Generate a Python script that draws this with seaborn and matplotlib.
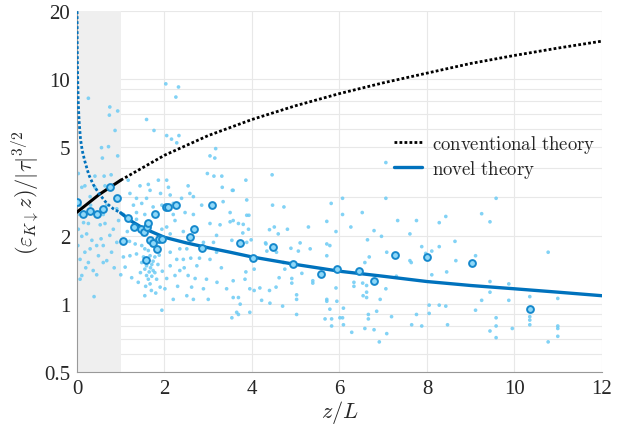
import pandas as pd
import matplotlib.pyplot as plt
import seaborn as sns
from matplotlib.ticker import FixedLocator, LogLocator, NullFormatter

# theory curves
conv_z = [0, 0.5, 1, 2, 3, 4, 5, 6, 7, 8, 9, 10, 11, 12]
conv_v = [2.56, 3.06, 3.55, 4.58, 5.6, 6.6, 7.6, 8.6, 9.6, 10.6, 11.7, 12.7, 13.7, 14.7]

novel_z = [0.0015, 0.005, 0.01, 0.017, 0.03, 0.05, 0.08, 0.12, 0.18, 0.27, 0.37, 0.5, 0.68, 0.83, 1,
           1.25, 1.5, 2, 2.5, 3, 3.5, 4, 5, 6, 7, 8, 9, 10, 11, 12]
novel_v = [21, 14.5, 11.5, 9.6, 7.7, 6.4, 5.4, 4.8, 4.3, 3.75, 3.4, 3.1, 2.8, 2.65, 2.54,
           2.33, 2.18, 1.98, 1.87, 1.78, 1.70, 1.62, 1.50, 1.40, 1.33, 1.26, 1.21, 1.17, 1.13, 1.09]

# individual samples (small dots)
dot_z = [0.26, 0.75, 0.74, 0.93, 0.87, 0.56, 0.72, 0.58, 0.93,
         2.03, 2.32, 2.26, 1.59, 1.76, 2.05, 2.16, 2.33, 2.28,
         3.17, 3.04, 3.15, 2.98, 3.13, 3.31, 3.32, 3.55,
         0.03, 0.18, 0.11, 0.41, 0.41, 0.3, 0.62, 0.78, 0.64, 0.07, 0.31, 0.68, 0.91, 0.01, 0.6,
         1.17, 1.44, 1.21, 1.36, 1.63, 1.67, 1.86, 1.91, 2.05, 2.09, 2.13, 1.59, 1.48, 1.29, 1.74,
         1.94, 2.2, 2.39, 2.58, 2.66, 2.54, 2.47, 2.85, 2.66, 3.5, 3.34, 1.36, 1.55, 2.2,
         0.03, 0.11, 0.02, 0.22, 0.34, 0.18, 0.07, 0.26, 0.37, 0.11, 0.07, 0.49, 0.6, 0.68, 0.79,
         0.75, 0.53, 0.64, 0.83, 0.91, 0.45, 0.3, 0.39, 0.6, 0.26,
         1.06, 1.1, 1.25, 1.4, 1.48, 1.55, 1.59, 1.63, 1.55, 1.67, 1.71, 1.74, 1.67, 1.55, 1.82,
         1.9, 2.01, 1.94, 2.13, 2.24, 2.35, 2.28, 2.13, 2.43, 2.54, 2.62, 2.66, 2.51, 2.74, 2.89,
         2.96, 3.04, 3.19, 3.19, 3.27, 3.5, 3.42, 3.57, 3.54, 3.65, 2.35, 2.51, 2.89, 3.12, 3.04,
         2.13, 2.24, 2.43, 1.33, 1.21, 1.36, 1.48, 1.78, 1.71, 1.36, 1.06, 1.94, 2.05, 1.59, 1.65,
         1.71, 1.63, 1.74,
         1.52, 1.62, 1.68, 1.78, 1.85, 1.57, 1.7, 1.8, 1.45, 1.95, 2.05, 1.88, 1.2, 1.15, 1.0,
         2.3, 2.45, 2.6, 2.7, 2.8, 3.3, 3.0, 3.2, 2.2, 0.2, 0.45, 0.55, 0.15, 0.85, 0.95,
         3.86, 3.57, 3.88, 3.88, 3.93, 3.69, 3.8, 3.92, 3.79, 3.57, 4.46, 4.47, 4.73, 4.51, 4.4,
         4.6, 4.81, 5.29, 5.1, 5.71, 5.81, 5.92, 5.71, 5.78, 6.07, 6.07, 6.26, 6.52, 6.64, 6.79,
         6.96, 7.06, 7.06, 7.33, 7.61, 7.76, 4.31, 3.98, 3.54,
         3.86, 3.84, 3.95, 4.05, 3.69, 3.73, 3.69, 3.95, 4.05, 4.18, 4.22, 4.32, 4.34, 4.4, 4.41,
         4.55, 4.62, 4.7, 4.75, 4.89, 4.91, 4.91, 5.02, 5.02, 5.02, 5.06, 5.14, 5.33, 5.39, 5.39,
         5.71, 5.71, 5.71, 5.67, 5.78, 5.82, 5.82, 5.92, 5.94, 6.01, 6.07, 6.09, 6.09, 6.28, 6.33,
         6.33, 6.53, 6.54, 6.62, 6.62, 6.58, 6.68, 6.58, 6.66, 6.66, 6.79, 6.85, 6.91, 7.06, 7.08,
         6.93, 7.19, 7.3, 7.61, 7.64, 7.65, 7.76, 6.62, 7.08, 4.56, 4.72, 3.57, 3.88,
         9.58, 9.25, 9.44, 8.43, 8.28, 7.88, 8.28, 8.64,
         8.11, 7.97, 8.66, 8.45, 8.11, 9.11, 9.44, 9.44, 9.87, 9.87, 9.25, 9.11, 8.05, 8.28, 8.43,
         8.05, 7.88, 8.47, 9.58, 9.58, 9.44, 9.58, 9.95, 10.35, 10.35, 10.35, 10.35, 10.77, 10.99,
         10.99, 10.99, 10.99, 10.77]
dot_v = [8.2, 7.5, 6.9, 7.2, 5.9, 4.95, 5.0, 4.45, 4.55,
         9.5, 9.2, 8.3, 6.6, 5.9, 5.6, 5.4, 5.6, 5.2,
         4.9, 4.55, 4.45, 3.8, 3.7, 3.7, 3.3, 3.2,
         3.8, 3.35, 3.3, 3.7, 3.3, 3.0, 3.7, 3.75, 3.35, 2.75, 2.75, 2.75, 2.65, 2.5, 2.5,
         3.55, 3.35, 3.1, 2.95, 3.4, 3.2, 3.55, 3.1, 3.55, 3.3, 3.05, 2.95, 2.8, 2.75, 2.7,
         2.75, 2.8, 2.95, 3.1, 3.0, 3.35, 2.55, 2.75, 2.5, 2.55, 2.85, 2.55, 2.5, 2.5,
         2.15, 2.0, 1.82, 2.05, 1.92, 1.7, 1.58, 1.53, 1.41, 1.34, 1.29, 1.64, 1.82, 1.56, 1.7,
         2.02, 2.25, 2.28, 2.15, 1.88, 1.82, 1.76, 1.08, 1.53, 2.28,
         1.62, 1.46, 1.31, 1.25, 1.53, 1.43, 1.34, 1.73, 1.76, 1.64, 1.5, 1.41, 1.23, 1.09, 1.29,
         1.19, 1.17, 0.94, 1.48, 1.34, 1.41, 1.58, 1.7, 1.58, 1.34, 1.19, 1.05, 1.09, 1.48, 1.17,
         1.29, 1.58, 1.7, 2.02, 2.25, 2.32, 1.17, 1.07, 0.87, 0.92, 1.76, 1.76, 1.88, 1.88, 2.28,
         2.05, 2.35, 2.1, 1.85, 1.64, 1.67, 1.82, 1.62, 1.82, 2.38, 2.5, 2.15, 2.2, 1.48, 1.39,
         1.33, 1.29, 1.55,
         1.62, 1.58, 1.45, 1.38, 1.5, 1.2, 1.15, 1.12, 1.38, 1.4, 1.3, 1.65, 1.9, 2.1, 1.35,
         1.2, 1.45, 1.6, 1.3, 1.6, 1.45, 1.05, 1.25, 1.05, 1.45, 1.35, 1.95, 2.3, 1.45, 2.35,
         3.55, 3.2, 2.9, 2.48, 2.48, 2.28, 2.26, 2.15, 2.07, 2.35, 3.75, 2.75, 2.7, 2.2, 2.14,
         2.05, 2.15, 2.2, 1.87, 2.33, 2.8, 2.1, 1.85, 1.82, 2.95, 2.5, 2.2, 2.55, 1.93, 2.12,
         2.0, 4.25, 2.95, 2.35, 2.05, 2.35, 1.87, 1.93, 1.92,
         1.39, 1.29, 1.17, 1.15, 1.07, 1.0, 0.9, 0.92, 1.43, 1.18, 1.04, 1.85, 1.72, 1.15, 1.01,
         1.19, 1.31, 0.98, 1.43, 1.77, 1.3, 1.24, 1.1, 1.05, 0.9, 1.72, 1.37, 1.76, 1.27, 1.24,
         1.64, 1.05, 1.03, 0.86, 0.95, 0.86, 0.8, 1.18, 1.03, 0.87, 0.87, 0.96, 0.81, 0.75, 1.25,
         1.2, 1.24, 1.09, 1.13, 1.07, 1.53, 1.62, 0.78, 0.9, 0.86, 0.77, 0.93, 0.68, 1.17, 0.74,
         1.05, 0.88, 1.33, 1.56, 1.53, 0.81, 0.9, 1.21, 1.7, 1.7, 1.53, 1.27, 1.88,
         2.95, 2.52, 2.32, 2.45, 2.3, 1.8, 1.8, 1.9,
         1.72, 1.68, 1.56, 1.39, 1.35, 1.64, 1.26, 1.13, 1.23, 1.04, 1.04, 0.94, 0.99, 0.99, 0.98,
         0.91, 0.8, 0.81, 0.87, 0.8, 0.76, 0.71, 0.78, 1.08, 0.88, 0.85, 0.81, 1.7, 1.06,
         0.8, 0.78, 0.72, 0.68]

# bin averages (open circles)
bin_z = [0.01, 0.14, 0.3, 0.45, 0.6, 0.75, 0.91, 1.17, 1.78, 2.03, 2.07, 2.26, 3.08,
         1.31, 1.46, 1.53, 1.61, 1.63, 1.04, 1.67, 1.73, 1.88, 1.95, 1.84, 1.58, 2.67, 2.58, 2.86,
         3.73, 4.47, 4.03, 4.93, 5.58, 5.94, 6.45, 6.79, 7.28, 7.99, 9.04, 10.35]
bin_v = [2.85, 2.5, 2.6, 2.5, 2.65, 3.3, 2.95, 2.42, 2.5, 2.7, 2.7, 2.75, 2.75,
         2.2, 2.15, 2.1, 2.2, 2.3, 1.9, 1.93, 1.87, 1.95, 1.95, 1.75, 1.57, 2.15, 1.98, 1.78,
         1.87, 1.8, 1.6, 1.5, 1.36, 1.43, 1.41, 1.27, 1.65, 1.62, 1.52, 0.95]

conv = pd.DataFrame({'z': conv_z, 'v': conv_v})
novel = pd.DataFrame({'z': novel_z, 'v': novel_v})
dots = pd.DataFrame({'z': dot_z, 'v': dot_v})
bins = pd.DataFrame({'z': bin_z, 'v': bin_v})

sns.set_style('whitegrid')
plt.rcParams['font.family'] = ['Liberation Serif', 'DejaVu Serif']
plt.rcParams['mathtext.fontset'] = 'cm'

blue = '#0072BD'
dotted = (0, (1, 0.8))

fig, ax = plt.subplots(figsize=(6.22, 4.27), dpi=100)
fig.subplots_adjust(left=0.1238, right=0.9678, top=0.9719, bottom=0.1265)

ax.axvspan(0, 1, color='#efefef', lw=0, zorder=0.8)

sns.scatterplot(data=dots, x='z', y='v', ax=ax, s=7, color='#6ccbf4', edgecolor='none',
                alpha=0.85, zorder=2)

sns.lineplot(data=conv[conv.z <= 1], x='z', y='v', ax=ax, color='black', lw=2.2,
             estimator=None, zorder=3)
sns.lineplot(data=conv[conv.z >= 1], x='z', y='v', ax=ax, color='black', lw=2.0,
             linestyle=dotted, estimator=None, zorder=3, label='conventional theory')
sns.lineplot(data=novel[novel.z <= 1], x='z', y='v', ax=ax, color=blue, lw=2.0,
             linestyle=dotted, estimator=None, zorder=3)
sns.lineplot(data=novel[novel.z >= 1], x='z', y='v', ax=ax, color=blue, lw=2.4,
             estimator=None, zorder=3, label='novel theory')

sns.scatterplot(data=bins, x='z', y='v', ax=ax, s=24, color='#8fd8f8', edgecolor='#1588cc',
                linewidth=1.4, zorder=4)

ax.set_yscale('log')
ax.set_xlim(0, 12)
ax.set_ylim(0.5, 20)
ax.set_xticks(range(0, 13, 2))
ax.yaxis.set_major_locator(FixedLocator([0.5, 1, 2, 5, 10, 20]))
ax.yaxis.set_minor_locator(LogLocator(subs=range(2, 10)))
ax.yaxis.set_minor_formatter(NullFormatter())
ax.set_yticklabels(['0.5', '1', '2', '5', '10', '20'])

ax.set_axisbelow(True)
ax.grid(True, which='both', color='#e8e8e8', lw=0.8)
ax.tick_params(which='both', direction='in', labelsize=15, color='#888888', pad=5)
ax.tick_params(which='major', length=4)
ax.tick_params(which='minor', length=2.5)
for side in ['top', 'right']:
    ax.spines[side].set_visible(False)
for side in ['left', 'bottom']:
    ax.spines[side].set_color('#999999')
    ax.spines[side].set_linewidth(0.8)

ax.set_xlabel(r'$z/L$', fontsize=16, labelpad=0)
ax.set_ylabel(r'$(\varepsilon_{K\downarrow}z)/|\tau|^{3/2}$', fontsize=16, labelpad=2)

leg = ax.legend(loc='upper left', bbox_to_anchor=(0.603, 0.662), frameon=False,
                borderaxespad=0, borderpad=0,
                handlelength=1.5, handletextpad=0.55, labelspacing=0.15,
                prop={'family': 'DejaVu Serif', 'size': 13.5})
for t in leg.get_texts():
    t.set_text(r'$\mathrm{' + t.get_text().replace(' ', r'\ ') + '}$')

fig.savefig('out.png', dpi=100)
